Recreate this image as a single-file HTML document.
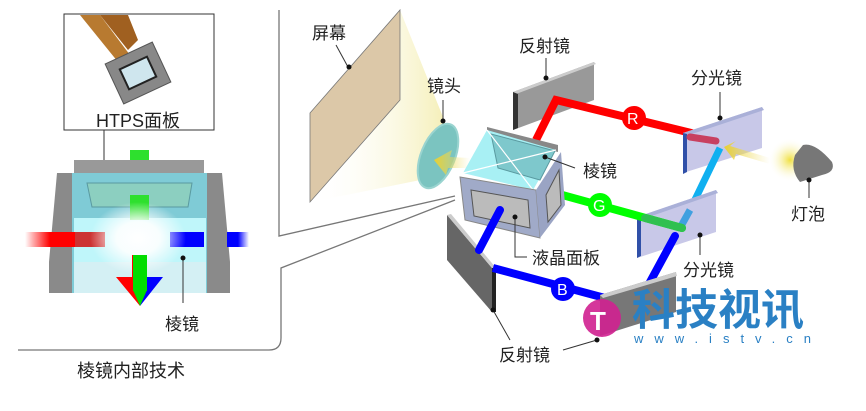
<!DOCTYPE html>
<html><head><meta charset="utf-8"><style>
body{margin:0;background:#fff}
svg text{font-family:"Liberation Sans","Noto Sans CJK SC",sans-serif;font-size:17px;fill:#222}
</style></head><body>
<svg width="866" height="406" viewBox="0 0 866 406" xmlns="http://www.w3.org/2000/svg">
<defs>
<linearGradient id="cone" x1="0" y1="0" x2="1" y2="0"><stop offset="0" stop-color="#fff" stop-opacity="0"/><stop offset="1" stop-color="#f5efb8"/></linearGradient>
<linearGradient id="ya" x1="1" y1="0" x2="0" y2="0"><stop offset="0" stop-color="#f3e27a" stop-opacity="0"/><stop offset="1" stop-color="#e8d030"/></linearGradient>
<linearGradient id="rl" x1="0" y1="0" x2="1" y2="0"><stop offset="0" stop-color="#f00" stop-opacity="0"/><stop offset="0.5" stop-color="#f00"/></linearGradient>
<linearGradient id="bl" x1="1" y1="0" x2="0" y2="0"><stop offset="0" stop-color="#00f" stop-opacity="0"/><stop offset="0.5" stop-color="#00f"/></linearGradient>
<radialGradient id="glow"><stop offset="0" stop-color="#fff"/><stop offset="0.45" stop-color="#fff" stop-opacity="0.9"/><stop offset="1" stop-color="#fff" stop-opacity="0"/></radialGradient>
<radialGradient id="lampg"><stop offset="0" stop-color="#f0e040"/><stop offset="1" stop-color="#fff" stop-opacity="0"/></radialGradient>
</defs>
<!-- frame lines -->
<path d="M279,10 V236 L455,196" fill="none" stroke="#777" stroke-width="1.3"/>
<path d="M455,200 L281,268 V338 Q281,350 269,350 H18" fill="none" stroke="#777" stroke-width="1.3"/>
<!-- HTPS box -->
<rect x="64" y="14" width="150" height="116" fill="#fff" stroke="#333" stroke-width="1"/>
<path d="M80,15 L100,15 L130,55 L118,62 Z" fill="#b87a30"/>
<path d="M100,15 L128,15 L138,40 L128,50 Z" fill="#a06020"/>
<g transform="translate(138,73) rotate(-25)"><rect x="-26" y="-22" width="52" height="44" fill="#888" stroke="#555"/><rect x="-15" y="-11" width="30" height="22" fill="#cfe6ee" stroke="#222" stroke-width="2"/></g>
<text x="96" y="127" style="font-size:18px">HTPS面板</text>
<line x1="104" y1="130" x2="104" y2="163" stroke="#333"/><circle cx="104" cy="163" r="2.5" fill="#111"/>
<!-- left prism -->
<rect x="130" y="150" width="19" height="12" fill="#2ee02e"/>
<rect x="74" y="160" width="130" height="14" fill="#999"/>
<polygon points="57,173 74,173 74,293 49,293 49,262" fill="#8a8a8a"/>
<polygon points="204,173 222,173 230,262 230,293 204,293" fill="#8a8a8a"/>
<rect x="72" y="173" width="135" height="120" fill="#7fcbd6"/>
<rect x="74" y="262" width="132" height="31" fill="#d4f0f4"/>
<polygon points="87,183 192,183 188,207 92,207" fill="#8ccfc0" stroke="#5a9aa0"/>
<rect x="74" y="218" width="132" height="44" fill="#bff6fa"/>
<rect x="130" y="195" width="19" height="25" fill="#2ee02e"/>
<rect x="25" y="232" width="50" height="15" fill="url(#rl)"/>
<rect x="75" y="232" width="30" height="15" fill="#c33"/>
<rect x="170" y="232" width="34" height="15" fill="#00f"/>
<rect x="227" y="232" width="22" height="15" fill="url(#bl)"/>
<ellipse cx="138" cy="238" rx="48" ry="36" fill="url(#glow)"/>
<polygon points="116,277 132,277 132,255 140,255 140,306" fill="#f00"/>
<polygon points="163,277 147,277 147,255 140,255 140,306" fill="#00f"/>
<rect x="133" y="255" width="14" height="36" fill="#0d0"/><polygon points="133,290 147,290 140,306" fill="#0d0"/>
<line x1="183" y1="258" x2="183" y2="303" stroke="#333"/><circle cx="183" cy="258" r="2.5" fill="#111"/>
<text x="165" y="330">棱镜</text>
<text x="77" y="377" style="font-size:18px">棱镜内部技术</text>
<!-- screen & cone -->
<polygon points="400,10 400,100 312,202 445,175 445,122" fill="url(#cone)"/>
<polygon points="310,113 400,10 400,100 310,202" fill="#dcc8a8" stroke="#777" stroke-width="0.8"/>
<text x="312" y="39">屏幕</text>
<line x1="336" y1="45" x2="348" y2="67" stroke="#333"/><circle cx="349" cy="67" r="2.5" fill="#111"/>
<!-- lens -->
<ellipse cx="438" cy="156" rx="17" ry="34" transform="rotate(22 438 156)" fill="#7bc4c0" stroke="#9ad4d0" stroke-width="2"/>
<text x="427" y="92">镜头</text>
<line x1="443" y1="100" x2="443" y2="121" stroke="#333"/><circle cx="443" cy="121" r="2.5" fill="#111"/>
<polygon points="470,158 450,157 452,150 434,160 446,175 448,168 470,168" fill="url(#ya)"/>
<!-- top reflector -->
<polygon points="513,92 594,62 594,100 513,130" fill="#999"/>
<polygon points="513,92 594,62 596,64 516,94" fill="#ccc"/>
<polygon points="513,92 518,94 518,128 513,130" fill="#333"/>
<text x="519" y="52">反射镜</text>
<line x1="546" y1="58" x2="546" y2="78" stroke="#333"/><circle cx="546" cy="78" r="2.5" fill="#111"/>
<!-- red -->
<polyline points="536,140 556,100 720,140" fill="none" stroke="#f00" stroke-width="8"/>
<circle cx="634" cy="118" r="12" fill="#f00"/><text x="627" y="124" style="fill:#fff;font-size:16px">R</text>
<!-- dichroic top -->
<polygon points="683,133 762,107 762,148 683,173" fill="#c8c8e8"/>
<polygon points="683,133 762,107 764,110 686,136" fill="#aab0d8"/>
<polygon points="683,133 687,134 687,172 683,174" fill="#3050a8"/>
<line x1="690" y1="137" x2="716" y2="141" stroke="#c84060" stroke-width="7" stroke-linecap="round"/>
<text x="691" y="84">分光镜</text>
<line x1="720" y1="92" x2="720" y2="118" stroke="#333"/><circle cx="720" cy="118" r="2.5" fill="#111"/>
<!-- lamp -->
<circle cx="790" cy="160" r="22" fill="url(#lampg)"/>
<polygon points="770,158 730,146 736,141 724,147 734,160 736,154 770,164" fill="url(#ya)"/>
<path d="M803,145 Q815,142 832,162 Q836,172 822,175 L800,182 Q790,170 795,155 Z" fill="#777"/>
<line x1="809" y1="180" x2="809" y2="198" stroke="#333"/><circle cx="809" cy="180" r="2.5" fill="#111"/>
<text x="791" y="220">灯泡</text>
<!-- cyan -->
<line x1="720" y1="148" x2="690" y2="210" stroke="#10b0f0" stroke-width="7"/>
<!-- dichroic 2 -->
<polygon points="637,217 716,190 716,232 637,258" fill="#c8c8e8"/>
<polygon points="637,217 716,190 718,193 640,220" fill="#aab0d8"/>
<polygon points="637,217 641,218 641,256 637,258" fill="#3050a8"/>
<line x1="690" y1="210" x2="680" y2="228" stroke="#40a0e0" stroke-width="7"/>
<!-- green -->
<line x1="555" y1="193" x2="682" y2="228" stroke="#0f0" stroke-width="8" stroke-linecap="round"/>
<line x1="645" y1="218" x2="682" y2="228" stroke="#30c050" stroke-width="8" stroke-linecap="round"/>
<circle cx="600" cy="205" r="12" fill="#0f0"/><text x="593" y="211" style="fill:#fff;font-size:16px">G</text>
<text x="683" y="276">分光镜</text>
<line x1="700" y1="235" x2="700" y2="255" stroke="#333"/><circle cx="700" cy="235" r="2.5" fill="#111"/>
<!-- blue lower -->
<line x1="675" y1="236" x2="650" y2="282" stroke="#00f" stroke-width="8" stroke-linecap="round"/>
<!-- prism cube -->
<polygon points="487,127 558,145 558,152 487,134" fill="#888"/>
<polygon points="487,130 556,150 533,190 463,173" fill="#a8f0f4"/>
<polygon points="491,134 555,151 540,180 498,168" fill="#7ec8cc" stroke="#5a9aa0"/>
<line x1="487" y1="130" x2="533" y2="190" stroke="#fff" stroke-width="1.2"/>
<line x1="463" y1="173" x2="556" y2="150" stroke="#fff" stroke-width="1.2"/>
<polygon points="460,177 536,190 540,238 465,220" fill="#a0aac8" stroke="#888"/>
<polygon points="471,190 528,200 530,228 474,216" fill="#bbb" stroke="#555"/>
<polygon points="536,190 561,152 565,205 540,238" fill="#9aa4c4"/>
<polygon points="546,195 559,170 561,205 548,222" fill="#bbb" stroke="#555"/>
<line x1="545" y1="157" x2="575" y2="168" stroke="#333"/><circle cx="545" cy="157" r="2.5" fill="#111"/>
<text x="583" y="177">棱镜</text>
<!-- left reflector -->
<polygon points="447,215 492,268 492,312 447,260" fill="#666"/>
<polygon points="447,215 451,214 496,268 492,268" fill="#ccc"/>
<polygon points="492,268 496,268 496,312 492,312" fill="#222"/>
<!-- blue path -->
<polyline points="500,210 479,250" fill="none" stroke="#00f" stroke-width="8" stroke-linecap="round"/>
<line x1="493" y1="268" x2="605" y2="298" stroke="#00f" stroke-width="8"/>
<circle cx="563" cy="289" r="12" fill="#00f"/><text x="557" y="295" style="fill:#fff;font-size:16px">B</text>
<polyline points="515,217 515,257 527,257" fill="none" stroke="#333"/><circle cx="515" cy="217" r="2.5" fill="#111"/>
<text x="532" y="264">液晶面板</text>
<!-- bottom reflector -->
<polygon points="600,295 676,272 676,312 600,336" fill="#777"/>
<polygon points="600,295 676,272 677,276 603,298" fill="#ccc"/>
<!-- watermark -->
<circle cx="602" cy="318" r="19" fill="#d02090" opacity="0.9"/>
<text x="590" y="330" style="fill:#fff;font-size:26px;font-weight:bold">T</text>
<text x="632" y="325" style="fill:#2a80c4;font-size:43px;font-weight:bold">科技视讯</text>
<text x="634" y="343" style="fill:#2a80c4;font-size:13px;letter-spacing:11px">www.istv.cn</text>
<line x1="493" y1="310" x2="510" y2="340" stroke="#333"/><circle cx="493" cy="310" r="2.5" fill="#111"/>
<line x1="563" y1="350" x2="597" y2="340" stroke="#333"/><circle cx="597" cy="340" r="2.5" fill="#111"/>
<text x="499" y="361">反射镜</text>
</svg>
</body></html>
